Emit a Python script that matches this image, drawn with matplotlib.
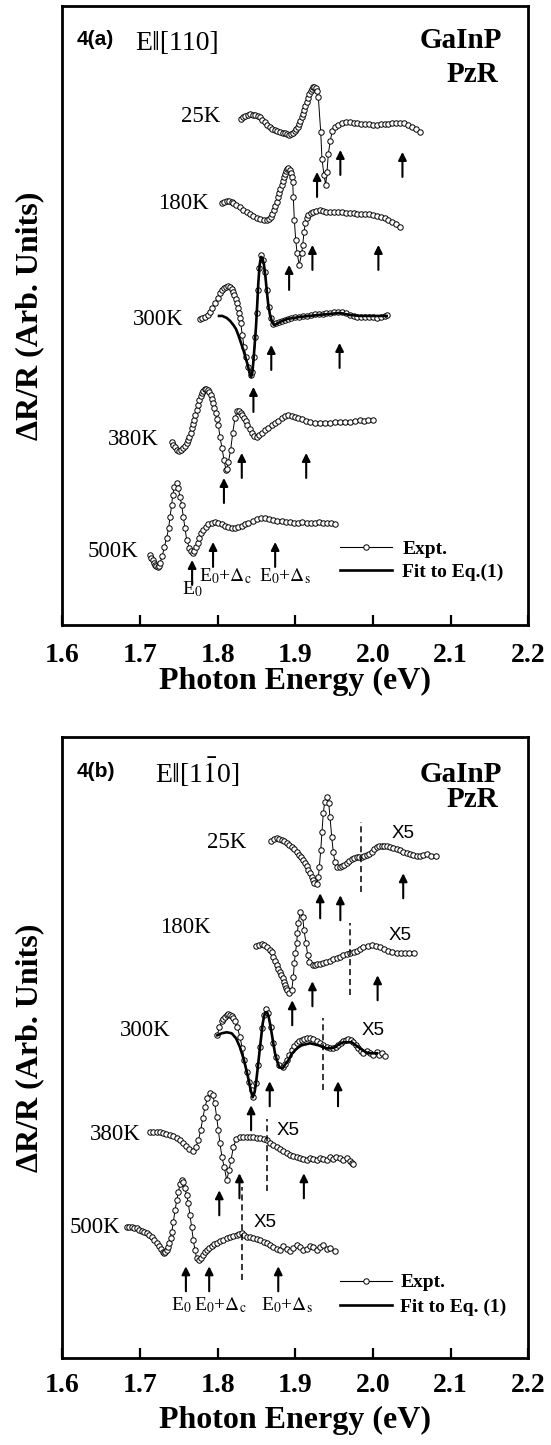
import matplotlib
matplotlib.use("Agg")
import matplotlib.pyplot as plt
from matplotlib.lines import Line2D

plt.rcParams['font.family'] = ['Liberation Serif', 'DejaVu Serif']
plt.rcParams['mathtext.fontset'] = 'stix'

temps = ['25K', '180K', '300K', '380K', '500K']

# ---------------- Fig. 4(a): E || [110]  (photon energy in eV, dR/R in arb. units) ----------------
a25_E = [1.8296, 1.8325, 1.8351, 1.8385, 1.8416, 1.8450, 1.8480, 1.8515, 1.8545, 1.8575,
         1.8609, 1.8640, 1.8674, 1.8705, 1.8738, 1.8770, 1.8802, 1.8835, 1.8867, 1.8895,
         1.8922, 1.8945, 1.8966, 1.8990, 1.9009, 1.9030, 1.9047, 1.9065, 1.9082, 1.9097,
         1.9112, 1.9130, 1.9147, 1.9163, 1.9180, 1.9197, 1.9215, 1.9230, 1.9244, 1.9260,
         1.9275, 1.9296, 1.9327, 1.9343, 1.9369, 1.9391, 1.9408, 1.9425, 1.9450, 1.9476,
         1.9511, 1.955, 1.960, 1.965, 1.970, 1.975, 1.980, 1.985, 1.990, 1.995,
         2.000, 2.005, 2.010, 2.015, 2.020, 2.025, 2.030, 2.035, 2.040, 2.045,
         2.050, 2.055, 2.060]
a25_R = [5, 7, 8, 9, 10, 9, 9, 8, 7, 4,
         2, -1, -3, -5, -6, -7, -8, -9, -9, -10,
         -11, -10, -9, -7, -5, -3, 0, 3, 7, 10,
         14, 18, 22, 26, 30, 33, 35, 37, 37, 36,
         33, 27, -8, -35, -51, -61, -48, -30, -17, -7,
         -3, -1, 1, 2, 2, 1, 1, 0, 0, 0,
         -1, -1, 0, 0, 0, 1, 1, 1, 1, -1,
         -3, -5, -8]

a180_E = [1.8051, 1.8085, 1.8116, 1.8150, 1.8180, 1.8201, 1.8240, 1.8287, 1.8330, 1.8373,
          1.8415, 1.8458, 1.8500, 1.8545, 1.8590, 1.8631, 1.8660, 1.8682, 1.8705, 1.8725,
          1.8743, 1.8760, 1.8777, 1.8793, 1.8808, 1.8824, 1.8840, 1.8854, 1.8867, 1.8880,
          1.8895, 1.8909, 1.8925, 1.8940, 1.8954, 1.8966, 1.8974, 1.8987, 1.9005, 1.9022,
          1.9051, 1.9082, 1.9095, 1.9112, 1.9129, 1.9148, 1.9167, 1.9200, 1.9232, 1.9270,
          1.9318, 1.935, 1.940, 1.945, 1.950, 1.955, 1.960, 1.965, 1.970, 1.975,
          1.980, 1.985, 1.990, 1.995, 2.000, 2.005, 2.010, 2.015, 2.020, 2.025,
          2.030, 2.035]
a180_R = [9, 10, 11, 11, 10, 9, 7, 5, 2, 0,
          -2, -4, -6, -7, -8, -8, -7, -5, -2, 2,
          6, 10, 15, 19, 23, 27, 31, 35, 38, 41,
          43, 44, 42, 39, 35, 30, 15, -8, -28, -41,
          -53, -41, -33, -20, -11, -6, -3, -1, 0, 1,
          2, 1, 0, 0, 0, 0, 0, -1, -1, -1,
          -2, -2, -2, -2, -3, -4, -5, -6, -8, -10,
          -12, -15]

a300_E = [1.7772, 1.7800, 1.7836, 1.7870, 1.7901, 1.7930, 1.7965, 1.8000, 1.8029, 1.8055,
          1.8081, 1.8110, 1.8137, 1.8160, 1.8180, 1.8198, 1.8214, 1.8230, 1.8245, 1.8258,
          1.8271, 1.8284, 1.8296, 1.8317, 1.8339, 1.8365, 1.8394, 1.8425, 1.8446, 1.8468,
          1.8485, 1.8503, 1.8519, 1.8536, 1.8558, 1.8588, 1.8609, 1.8631, 1.8657, 1.8683,
          1.8716, 1.8750, 1.8790, 1.8830, 1.8870, 1.8910, 1.8950, 1.9000, 1.9050, 1.9100,
          1.9150, 1.9200, 1.9250, 1.9300, 1.9350, 1.9400, 1.9450, 1.9500, 1.9550, 1.9600,
          1.9650, 1.9700, 1.9750, 1.9800, 1.9850, 1.9900, 1.9950, 2.0000, 2.0050, 2.0100,
          2.0150, 2.0177]
a300_R = [-1, 0, 1, 3, 6, 10, 15, 20, 25, 28,
          30, 31, 32, 31, 29, 26, 23, 19, 15, 10,
          5, 0, -5, -17, -29, -39, -49, -57, -54, -39,
          -19, 5, 28, 50, 63, 58, 46, 28, 11, 0,
          -6, -5, -4, -3, -2, -1, 0, 1, 1, 2,
          2, 3, 4, 4, 4, 5, 5, 6, 6, 6,
          5, 3, 2, 1, 1, 1, 1, 1, 0, 1,
          2, 3]

a300fit_E = [1.8017, 1.8060, 1.8116, 1.8160, 1.8201, 1.8235, 1.8265, 1.8300, 1.8330, 1.8360,
             1.8386, 1.8410, 1.8429, 1.8445, 1.8458, 1.8475, 1.8493, 1.8508, 1.8523, 1.8540,
             1.8558, 1.8575, 1.8596, 1.8615, 1.8631, 1.8650, 1.8674, 1.8700, 1.8725, 1.8760,
             1.8802, 1.8900, 1.9060, 1.9300, 1.9575, 1.9700, 1.9833, 2.0177]
a300fit_R = [2, 2, 0, -3, -7, -11, -17, -25, -32, -40,
             -47, -55, -59, -55, -45, -28, -9, 12, 35, 53,
             61, 60, 53, 41, 28, 14, 3, -4, -7, -6,
             -4, -1, 1, 3, 5, 3, 2, 2]

a380_E = [1.7407, 1.7430, 1.7450, 1.7478, 1.7505, 1.7530, 1.7557, 1.7580, 1.7600, 1.7618,
          1.7634, 1.7650, 1.7665, 1.7680, 1.7694, 1.7712, 1.7729, 1.7746, 1.7763, 1.7780,
          1.7797, 1.7816, 1.7836, 1.7855, 1.7875, 1.7892, 1.7910, 1.7927, 1.7943, 1.7958,
          1.7974, 1.7990, 1.8008, 1.8029, 1.8055, 1.8081, 1.8107, 1.8120, 1.8137, 1.8167,
          1.8193, 1.8223, 1.8253, 1.8275, 1.8296, 1.8318, 1.8339, 1.8360, 1.8381, 1.8410,
          1.8438, 1.8470, 1.8503, 1.8535, 1.8567, 1.8610, 1.8652, 1.8695, 1.8738, 1.8780,
          1.8824, 1.8867, 1.8910, 1.8953, 1.8996, 1.9040, 1.9082, 1.9135, 1.9189, 1.9250,
          1.9318, 1.9380, 1.9447, 1.9510, 1.9575, 1.9640, 1.9704, 1.9770, 1.9833, 1.9890,
          1.9940, 2.0005]
a380_R = [-21, -24, -26, -29, -30, -29, -27, -25, -22, -19,
          -16, -12, -7, -3, 1, 6, 11, 16, 21, 25,
          28, 30, 32, 32, 31, 29, 26, 22, 18, 13,
          8, 2, -4, -16, -27, -39, -49, -48, -41, -29,
          -12, 3, 10, 10, 8, 6, 3, 0, -4, -8,
          -12, -15, -16, -14, -12, -9, -7, -4, -2, 0,
          3, 5, 6, 5, 4, 3, 2, 0, -1, -2,
          -2, -2, -2, -1, -1, -1, -1, 0, 1, 0,
          1, 1]

a500_E = [1.7128, 1.7145, 1.7162, 1.7177, 1.7192, 1.7210, 1.7227, 1.7242, 1.7256, 1.7286,
          1.7312, 1.7342, 1.7368, 1.7385, 1.7407, 1.7420, 1.7441, 1.7472, 1.7492, 1.7514,
          1.7536, 1.7557, 1.7578, 1.7600, 1.7634, 1.7655, 1.7678, 1.7700, 1.7720, 1.7742,
          1.7763, 1.7790, 1.7814, 1.7845, 1.7879, 1.7920, 1.7965, 1.8010, 1.8051, 1.8095,
          1.8137, 1.8180, 1.8223, 1.8265, 1.8309, 1.8350, 1.8395, 1.8450, 1.8503, 1.8555,
          1.8609, 1.8660, 1.8716, 1.8770, 1.8824, 1.8880, 1.8931, 1.8980, 1.9033, 1.9090,
          1.9146, 1.9200, 1.9253, 1.9305, 1.9360, 1.9410, 1.9460, 1.9511]
a500_R = [-32, -35, -37, -40, -42, -43, -44, -43, -40, -33,
          -24, -15, -5, 6, 18, 28, 36, 40, 35, 26,
          18, 6, -5, -17, -25, -28, -30, -28, -24, -20,
          -15, -10, -7, -4, -1, 0, 1, 0, -1, -3,
          -4, -5, -5, -4, -3, -1, 0, 2, 4, 5,
          5, 4, 3, 2, 2, 1, 1, 0, 0, 1,
          0, 0, 0, 1, 0, 0, 0, -1]

# transition energies marked by arrows (25K, 180K, 300K, 380K, 500K)
a_E0 = [1.928, 1.892, 1.846, 1.808, 1.767]
a_E0c = [1.958, 1.922, 1.869, 1.831, 1.794]
a_E0s = [2.038, 2.007, 1.957, 1.914, 1.874]

# ---------------- Fig. 4(b): E || [1-10] ----------------
b25_E = [1.8683, 1.8720, 1.8760, 1.8790, 1.8824, 1.8855, 1.8889, 1.8920, 1.8953, 1.8985,
         1.9018, 1.9045, 1.9069, 1.9095, 1.9124, 1.9145, 1.9167, 1.9190, 1.9211, 1.9228,
         1.9244, 1.9275, 1.9296, 1.9309, 1.9327, 1.9343, 1.9360, 1.9378, 1.9404, 1.9430,
         1.9447, 1.9469, 1.9489, 1.9511, 1.9541, 1.9570, 1.9597, 1.9630, 1.9662, 1.9694,
         1.9726, 1.9760, 1.9791, 1.9823, 1.9855, 1.9887, 1.9919, 1.9950, 1.9984, 2.0015,
         2.0048, 2.0080, 2.0113, 2.0145, 2.0177, 2.0220, 2.0262, 2.0305, 2.0348, 2.0390,
         2.0435, 2.0478, 2.0520, 2.0563, 2.0606, 2.0650, 2.0697, 2.0750, 2.0807]
b25_R = [16, 18, 19, 18, 17, 16, 14, 12, 10, 8,
         5, 2, 0, -3, -6, -9, -13, -16, -20, -23,
         -26, -27, -20, -10, 7, 25, 44, 55, 60, 54,
         40, 20, 5, -5, -10, -10, -9, -8, -6, -4,
         -2, -1, 0, 0, 0, 1, 2, 3, 5, 8,
         10, 11, 11, 11, 11, 10, 9, 8, 7, 5,
         4, 3, 2, 1, 1, 2, 3, 1, 1]

b180_E = [1.8493, 1.8530, 1.8567, 1.8600, 1.8631, 1.8674, 1.8695, 1.8716, 1.8738, 1.8760,
          1.8780, 1.8802, 1.8820, 1.8837, 1.8852, 1.8867, 1.8882, 1.8897, 1.8922, 1.8953,
          1.8974, 1.8987, 1.9000, 1.9018, 1.9026, 1.9039, 1.9060, 1.9095, 1.9112, 1.9138,
          1.9159, 1.9180, 1.9224, 1.9250, 1.9283, 1.9320, 1.9360, 1.9400, 1.9447, 1.9490,
          1.9533, 1.9575, 1.9618, 1.9660, 1.9704, 1.9750, 1.9791, 1.9830, 1.9876, 1.9930,
          1.9984, 2.0040, 2.0091, 2.0145, 2.0197, 2.0250, 2.0306, 2.0360, 2.0413, 2.0470,
          2.0529]
b180_R = [6, 7, 8, 7, 5, 2, 0, -5, -9, -13,
          -17, -20, -23, -26, -30, -33, -36, -38, -41, -38,
          -25, -11, -1, 9, 19, 29, 40, 35, 22, 9,
          -3, -10, -13, -13, -12, -12, -11, -10, -9, -7,
          -6, -5, -3, -2, -1, 0, 1, 3, 5, 6,
          7, 6, 5, 3, 1, 0, -1, -1, -1, -1,
          -1]

b300_E = [1.7995, 1.8021, 1.8051, 1.8072, 1.8094, 1.8115, 1.8137, 1.8158, 1.8180, 1.8200,
          1.8223, 1.8253, 1.8287, 1.8317, 1.8343, 1.8373, 1.8403, 1.8438, 1.8458, 1.8493,
          1.8519, 1.8545, 1.8571, 1.8596, 1.8622, 1.8652, 1.8683, 1.8716, 1.8751, 1.8794,
          1.8837, 1.8865, 1.8889, 1.8920, 1.8953, 1.8985, 1.9018, 1.9050, 1.9082, 1.9115,
          1.9146, 1.9190, 1.9232, 1.9275, 1.9318, 1.9360, 1.9404, 1.9445, 1.9489, 1.9520,
          1.9554, 1.9585, 1.9618, 1.9650, 1.9683, 1.9715, 1.9747, 1.9780, 1.9812, 1.9845,
          1.9876, 1.9920, 1.9962, 2.0005, 2.0048, 2.0080, 2.0113, 2.0155]
b300_R = [17, 25, 31, 33, 35, 37, 38, 37, 36, 34,
          31, 25, 15, 4, -8, -20, -30, -38, -45, -31,
          -13, 5, 24, 37, 43, 39, 25, 9, -5, -13,
          -15, -12, -8, -3, 2, 6, 9, 11, 12, 13,
          14, 14, 13, 11, 9, 7, 5, 4, 4, 5,
          7, 9, 11, 12, 13, 12, 10, 7, 4, 1,
          -1, 1, -1, -3, 0, -3, -1, -4]

b300fit_E = [1.7995, 1.8051, 1.8116, 1.8180, 1.8236, 1.8287, 1.8339, 1.8394, 1.8425, 1.8451,
             1.8475, 1.8493, 1.8515, 1.8536, 1.8558, 1.8580, 1.8600, 1.8618, 1.8635, 1.8652,
             1.8673, 1.8695, 1.8716, 1.8738, 1.8766, 1.8794, 1.8837, 1.8870, 1.8910, 1.8950,
             1.8996, 1.9040, 1.9082, 1.9189, 1.9296, 1.9404, 1.9460, 1.9511, 1.9560, 1.9618,
             1.9726, 1.9780, 1.9833, 1.9890, 1.9940, 2.0048]
b300fit_R = [17, 19, 20, 19, 14, 5, -8, -26, -38, -45,
             -40, -31, -16, -1, 14, 29, 37, 40, 40, 37,
             29, 19, 9, -1, -9, -15, -16, -12, -8, -2,
             2, 5, 7, 9, 7, 4, 4, 5, 8, 10,
             10, 7, 4, 1, -1, -1]

b380_E = [1.7128, 1.7170, 1.7214, 1.7255, 1.7299, 1.7340, 1.7385, 1.7430, 1.7472, 1.7515,
          1.7557, 1.7595, 1.7634, 1.7678, 1.7720, 1.7750, 1.7781, 1.7807, 1.7836, 1.7866,
          1.7901, 1.7935, 1.7961, 1.7987, 1.8008, 1.8029, 1.8055, 1.8085, 1.8116, 1.8145,
          1.8171, 1.8201, 1.8236, 1.8287, 1.8330, 1.8373, 1.8415, 1.8458, 1.8500, 1.8545,
          1.8590, 1.8631, 1.8675, 1.8716, 1.8760, 1.8802, 1.8845, 1.8889, 1.8930, 1.8974,
          1.9017, 1.9060, 1.9100, 1.9146, 1.9190, 1.9232, 1.9275, 1.9318, 1.9360, 1.9404,
          1.9445, 1.9489, 1.9530, 1.9575, 1.9620, 1.9662, 1.9700, 1.9726, 1.9747]
b380_R = [27, 27, 27, 27, 26, 25, 24, 23, 21, 19,
          16, 13, 10, 8, 12, 19, 29, 41, 52, 61,
          66, 64, 56, 42, 29, 16, 2, -8, -21, -11,
          -1, 12, 20, 22, 22, 22, 22, 22, 21, 21,
          20, 19, 16, 14, 12, 10, 8, 6, 4, 3,
          2, 1, 0, -1, 1, 0, -1, 1, 0, -1,
          2, 0, 2, 1, -1, 1, -2, -4, -5]

b500_E = [1.6827, 1.6860, 1.6892, 1.6925, 1.6956, 1.6990, 1.7021, 1.7053, 1.7085, 1.7117,
          1.7149, 1.7180, 1.7214, 1.7240, 1.7266, 1.7290, 1.7308, 1.7325, 1.7342, 1.7360,
          1.7376, 1.7392, 1.7407, 1.7428, 1.7450, 1.7472, 1.7492, 1.7514, 1.7536, 1.7557,
          1.7578, 1.7600, 1.7621, 1.7643, 1.7664, 1.7686, 1.7707, 1.7729, 1.7763, 1.7785,
          1.7807, 1.7832, 1.7858, 1.7890, 1.7922, 1.7955, 1.7987, 1.8030, 1.8072, 1.8115,
          1.8158, 1.8200, 1.8244, 1.8275, 1.8309, 1.8340, 1.8373, 1.8415, 1.8458, 1.8500,
          1.8545, 1.8590, 1.8631, 1.8675, 1.8716, 1.8760, 1.8802, 1.8845, 1.8889, 1.8930,
          1.8974, 1.9017, 1.9060, 1.9100, 1.9146, 1.9190, 1.9232, 1.9275, 1.9318, 1.9360,
          1.9404, 1.9450, 1.9511]
b500_R = [21, 21, 21, 20, 20, 18, 17, 16, 15, 13,
          11, 8, 5, 2, -1, -4, -5, -4, -2, 1,
          5, 10, 16, 26, 38, 48, 56, 64, 68, 66,
          60, 53, 45, 33, 21, 8, -2, -10, -12, -10,
          -7, -4, -2, 0, 2, 4, 5, 7, 8, 10,
          11, 12, 13, 14, 15, 13, 11, 11, 10, 9,
          8, 6, 5, 3, 1, -1, -2, 2, -1, -3,
          0, 3, 1, -2, -1, 2, 1, -2, 1, 3,
          -1, 0, -3]

b_E0 = [1.932, 1.896, 1.843, 1.802, 1.759]
b_E0c = [1.958, 1.922, 1.867, 1.828, 1.789]
b_E0s = [2.039, 2.006, 1.955, 1.911, 1.878]
# energy above which the spectrum is magnified x5
b_x5_E = [1.985, 1.970, 1.935, 1.8635, 1.831]

# ---------------- layout (arb. units of the stacked plot) ----------------
a_offset = [501, 413, 307, 204, 102]
b_offset = [501, 406, 306, 199, 110]
a_tips = [(453, 475, 473), (360, 380, 380), (238, 280, 282), (147, 172, 172), (65, 83, 83)]
b_tips = [(465, 463, 485), (358, 377, 383), (253, 277, 277), (168, 185, 185), (92, 92, 92)]
a_tlabel = [(1.8029, 502.5), (1.7879, 415.8), (1.7557, 300), (1.7233, 180), (1.6977, 67.5)]
b_tlabel = [(1.8373, 510.3), (1.7911, 424.8), (1.7390, 321.8), (1.7006, 218.3), (1.6741, 125.3)]
b_x5_span = [(466.6, 536.6), (363.3, 435), (268.3, 340), (167.3, 239.3), (78.3, 171.3)]
b_x5_label = [(2.0387, 520), (2.0348, 418.6), (2.0001, 323.6), (1.8906, 223.6), (1.8609, 131.6)]
ARROW_LEN = 25

SANS = ['Liberation Sans', 'DejaVu Sans']


def draw_panel(ax, spectra, fit, offsets, arrows, tips, tlabels, ymax):
    for (E, R), off in zip(spectra, offsets):
        ax.plot(E, [off + r for r in R], '-', color='black', lw=0.7, marker='o', ms=3.9,
                mfc='white', mec='black', mew=0.7, zorder=2)
    fE, fR = fit
    fit_line, = ax.plot(fE, [offsets[2] + r for r in fR], '-', color='black', lw=1.9, zorder=3)
    for es, ts in zip(arrows, tips):
        for e, tip in zip(es, ts):
            ax.annotate('', xy=(e, tip), xytext=(e, tip - ARROW_LEN),
                        arrowprops=dict(arrowstyle='-|>', color='black', lw=1.5,
                                        mutation_scale=12, shrinkA=0, shrinkB=0), zorder=4)
    for t, (x, y) in zip(temps, tlabels):
        ax.text(x, y, t, size=16.5, ha='right', va='baseline')

    exp_handle = Line2D([], [], color='black', lw=0.8, marker='o', ms=3.9, mfc='white', mec='black', mew=0.7)
    ax.set_xlim(1.6, 2.2)
    ax.set_ylim(0, ymax)
    ax.set_yticks([])
    ticks = [1.6, 1.7, 1.8, 1.9, 2.0, 2.1, 2.2]
    ax.set_xticks(ticks, [f'{t:.1f}' for t in ticks], fontsize=20, fontweight='bold')
    ax.tick_params(axis='x', direction='in', length=7, width=1.6, top=False)
    for s in ax.spines.values():
        s.set_linewidth(2.0)
    ax.set_xlabel('Photon Energy (eV)', fontsize=23, fontweight='bold')
    ax.set_ylabel('ΔR/R (Arb. Units)', fontsize=23, fontweight='bold')
    ax.yaxis.set_label_coords(-0.040, 0.5)
    return exp_handle, fit_line


fig = plt.figure(figsize=(5.51, 14.45), dpi=100)
ax_a = fig.add_axes([0.1134, 0.5675, 0.8452, 0.4284])
ax_b = fig.add_axes([0.1134, 0.0600, 0.8452, 0.4302])

# ----- panel (a) -----
spec_a = [(a25_E, a25_R), (a180_E, a180_R), (a300_E, a300_R), (a380_E, a380_R), (a500_E, a500_R)]
arr_a = list(zip(a_E0, a_E0c, a_E0s))
h_exp, h_fit = draw_panel(ax_a, spec_a, (a300fit_E, a300fit_R), a_offset, arr_a, a_tips, a_tlabel, 619)
ax_a.tick_params(axis='x', pad=13)
ax_a.xaxis.set_label_coords(0.5, -0.068)
ax_a.text(1.6182, 580, '4(a)', family=SANS, weight='bold', size=15, va='baseline')
ax_a.text(1.6934, 575, 'E‖[110]', size=20, va='baseline')
ax_a.text(2.1660, 576.7, 'GaInP', weight='bold', size=21, ha='right', va='baseline')
ax_a.text(2.1610, 543.3, 'PzR', weight='bold', size=21, ha='right', va='baseline')
ax_a.text(a_E0[4], 31, r'E$_0$', size=14, ha='center', va='baseline')
ax_a.text(1.8104, 44, r'E$_0$+$\Delta_\mathrm{c}$', size=14, ha='center', va='baseline')
ax_a.text(1.8867, 44, r'E$_0$+$\Delta_\mathrm{s}$', size=14, ha='center', va='baseline')
ax_a.legend([h_exp, h_fit], ['Expt.', 'Fit to Eq.(1)'], loc='upper left',
            bbox_to_anchor=(0.596, 0.137), frameon=False, numpoints=1, handlelength=2.65,
            handletextpad=0.55, labelspacing=0.3, borderpad=0, borderaxespad=0,
            prop={'weight': 'bold', 'size': 14})

# ----- panel (b) -----
spec_b = [(b25_E, b25_R), (b180_E, b180_R), (b300_E, b300_R), (b380_E, b380_R), (b500_E, b500_R)]
arr_b = list(zip(b_E0, b_E0c, b_E0s))
h_exp, h_fit = draw_panel(ax_b, spec_b, (b300fit_E, b300fit_R), b_offset, arr_b, b_tips, b_tlabel, 621.6)
ax_b.tick_params(axis='x', pad=10.5)
ax_b.xaxis.set_label_coords(0.5, -0.077)
for e, (y0, y1), (lx, ly) in zip(b_x5_E, b_x5_span, b_x5_label):
    ax_b.vlines(e, y0, y1, colors='black', linewidth=1.1, linestyles=(0, (4, 2.5)), zorder=3)
    ax_b.text(lx, ly, 'X5', family=SANS, size=13.5, ha='center', va='baseline')
ax_b.text(1.6182, 581.6, '4(b)', family=SANS, weight='bold', size=15, va='baseline')
ax_b.text(1.7187, 575, r'E‖[1$\bar{1}$0]', size=20, va='baseline')
ax_b.text(2.1660, 576.6, 'GaInP', weight='bold', size=21, ha='right', va='baseline')
ax_b.text(2.1610, 551, 'PzR', weight='bold', size=21, ha='right', va='baseline')
ax_b.text(1.7536, 48.3, r'E$_0$', size=14, ha='center', va='baseline')
ax_b.text(1.8040, 48.3, r'E$_0$+$\Delta_\mathrm{c}$', size=14, ha='center', va='baseline')
ax_b.text(1.8899, 48.3, r'E$_0$+$\Delta_\mathrm{s}$', size=14, ha='center', va='baseline')
ax_b.legend([h_exp, h_fit], ['Expt.', 'Fit to Eq. (1)'], loc='upper left',
            bbox_to_anchor=(0.596, 0.136), frameon=False, numpoints=1, handlelength=2.65,
            handletextpad=0.45, labelspacing=0.35, borderpad=0, borderaxespad=0,
            prop={'weight': 'bold', 'size': 14})

fig.savefig('out.png', dpi=100, facecolor='white')
